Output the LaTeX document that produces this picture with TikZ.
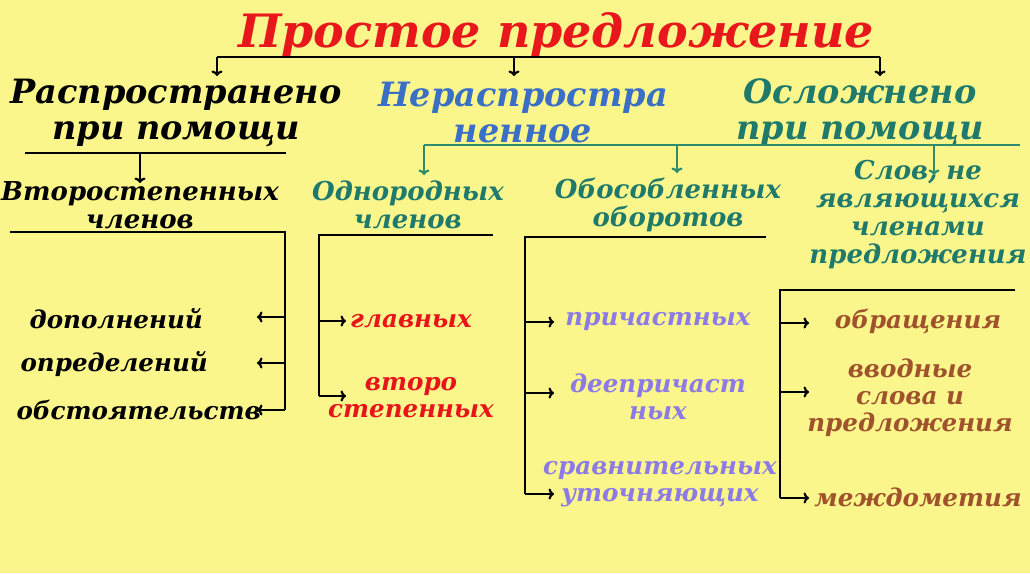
\documentclass[tikz,border=0pt]{standalone}
\usepackage{fontspec}
\setmainfont{DejaVu Serif}
\usepackage{xcolor}
\usetikzlibrary{arrows.meta}

\definecolor{paper}{HTML}{FAF68C}
\definecolor{titlered}{HTML}{E8171B}
\definecolor{headblue}{HTML}{3B6FC6}
\definecolor{headteal}{HTML}{1F7A6C}
\definecolor{lineteal}{HTML}{2E8B6E}
\definecolor{itemred}{HTML}{E8141B}
\definecolor{itemviolet}{HTML}{8C7AE6}
\definecolor{itembrown}{HTML}{A0522D}

\tikzset{
  titletext/.style={font=\fontsize{46}{52}\selectfont\bfseries\itshape, text=titlered, inner sep=0pt},
  head/.style={font=\fontsize{33.5}{36}\selectfont\bfseries\itshape, align=center, inner sep=0pt},
  sub/.style={font=\fontsize{26}{28}\selectfont\bfseries\itshape, align=center, inner sep=0pt},
  item/.style={font=\fontsize{24.6}{27}\selectfont\bfseries\itshape, align=center, inner sep=0pt},
  bar/.style={line width=2.8pt},
  arr/.style={line width=2.2pt, -{To[length=5.5pt,width=11pt]}},
}

\begin{document}
\begin{tikzpicture}[x=1pt,y=-1pt]
\fill[paper] (0,0) rectangle (1030,573);
\useasboundingbox (0,0) rectangle (1030,573);

% title and the three kinds
\node[titletext] (title) at (556,35) {Простое предложение};
\node[head] (rasp) at (176,113) {Распространено\\при помощи};
\node[head, text=headblue] (nerasp) at (523,113) {Нераспростра\\ненное};
\node[head, text=headteal] (oslozh) at (860,113) {Осложнено\\при помощи};

\coordinate (tL) at (217,57);
\coordinate (tM) at (514,57);
\coordinate (tR) at (880,57);
\draw[bar] (tL) -- (tR);
\draw[arr] (tL) -- ++(0,19);
\draw[arr] (tM) -- ++(0,19);
\draw[arr] (tR) -- ++(0,19);

% second level
\node[sub] (vtor) at (140,205) {Второстепенных\\членов};
\node[sub, text=headteal] (odnor) at (408,205) {Однородных\\членов};
\node[sub, text=headteal] (obos) at (668,205) {Обособленных\\оборотов};
\node[sub, text=headteal] (slov) at (918,215) {Слов, не\\являющихся\\членами\\предложения};

\coordinate (rL) at (25,153);
\coordinate (rR) at (286,153);
\coordinate (rA) at (140,153);
\draw[bar] (rL) -- (rR);
\draw[arr] (rA) -- ++(0,30);

\coordinate (oL) at (424,145);
\coordinate (oM) at (677,145);
\coordinate (oN) at (934,145);
\coordinate (oR) at (1020,145);
\draw[bar, lineteal] (oL) -- (oR);
\draw[arr, lineteal] (oL) -- ++(0,30);
\draw[arr, lineteal] (oM) -- ++(0,28);
\draw[arr, lineteal] (oN) -- ++(0,30);

% secondary members
\node[item, anchor=east] (dop) at (203,319) {дополнений};
\node[item, anchor=east] (opr) at (208,364) {определений};
\node[item, anchor=east] (obst) at (261,410) {обстоятельств};

\coordinate (vA) at (10,232);
\coordinate (vB) at (285,232);
\coordinate (vC) at (285,410);
\coordinate (vT) at (257,0);
\draw[bar] (vA) -- (vB) -- (vC);
\draw[arr] (vB |- 0,317) -- (vT |- 0,317);
\draw[arr] (vB |- 0,363) -- (vT |- 0,363);
\draw[arr] (vC) -- (vT |- vC);

% homogeneous members
\node[item, text=itemred, anchor=west] (glav) at (350,321) {главных};
\node[item, text=itemred] (vtoro) at (411,398) {второ\\степенных};

\coordinate (hA) at (493,235);
\coordinate (hB) at (319,235);
\coordinate (hC) at (319,396);
\coordinate (hT) at (346,0);
\draw[bar] (hA) -- (hB) -- (hC);
\draw[arr] (hB |- 0,321) -- (hT |- 0,321);
\draw[arr] (hC) -- (hT |- hC);

% isolated phrases
\node[item, text=itemviolet] (prich) at (658,321) {причастных};
\node[item, text=itemviolet] (deepr) at (658,397) {деепричаст\\ных};
\node[item, text=itemviolet] (srav) at (660,484) {сравнительных\\уточняющих};

\coordinate (iA) at (766,237);
\coordinate (iB) at (525,237);
\coordinate (iC) at (525,494);
\coordinate (iT) at (554,0);
\draw[bar] (iA) -- (iB) -- (iC);
\draw[arr] (iB |- 0,322) -- (iT |- 0,322);
\draw[arr] (iB |- 0,393) -- (iT |- 0,393);
\draw[arr] (iC) -- (iT |- iC);

% words that are not members
\node[item, text=itembrown] (obr) at (918,321) {обращения};
\node[item, text=itembrown] (vvod) at (910,398) {вводные\\слова и\\предложения};
\node[item, text=itembrown] (mezh) at (918,497) {междометия};

\coordinate (wA) at (1015,290);
\coordinate (wB) at (780,290);
\coordinate (wC) at (780,498);
\coordinate (wT) at (809,0);
\draw[bar] (wA) -- (wB) -- (wC);
\draw[arr] (wB |- 0,323) -- (wT |- 0,323);
\draw[arr] (wB |- 0,392) -- (wT |- 0,392);
\draw[arr] (wC) -- (wT |- wC);

\end{tikzpicture}
\end{document}
